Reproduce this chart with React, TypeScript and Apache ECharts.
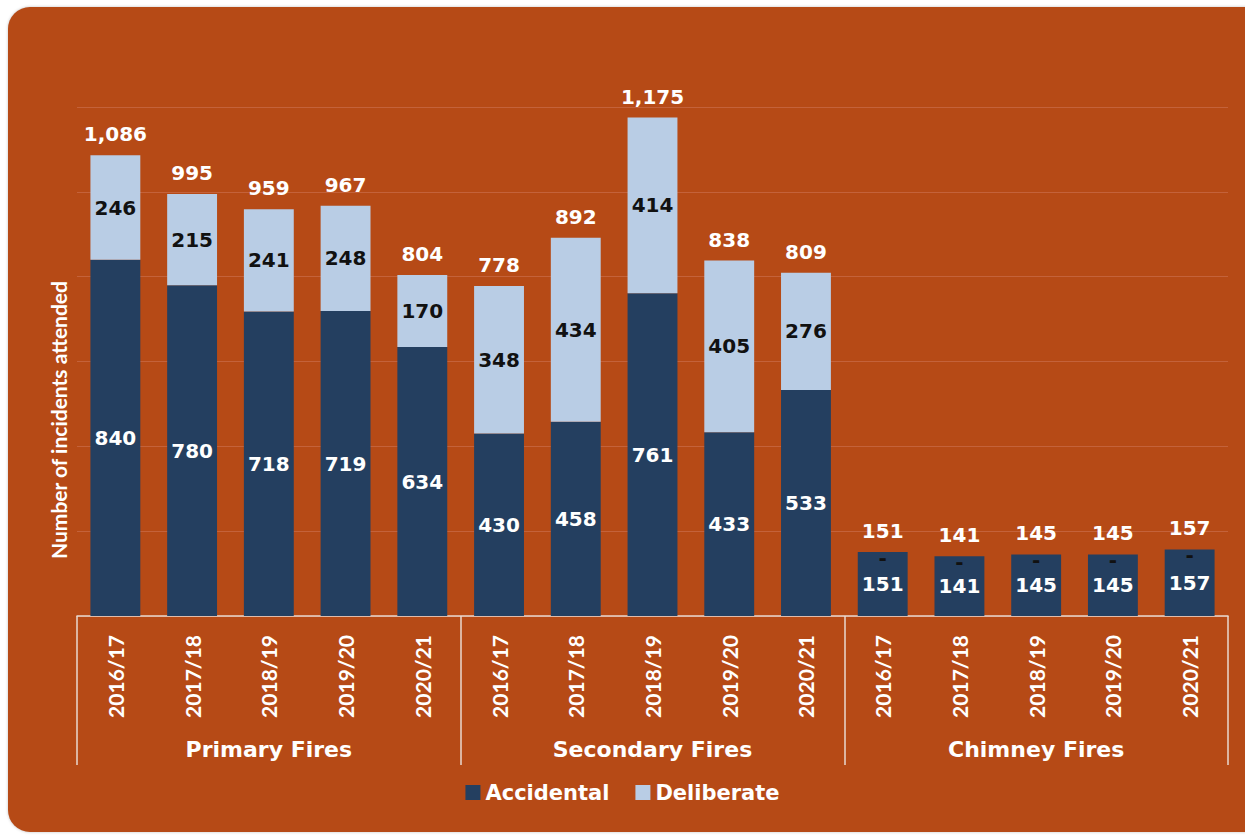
import React, { useEffect, useRef } from "react";
import * as echarts from "echarts";

const categories = [
  "2016/17", "2017/18", "2018/19", "2019/20", "2020/21",
  "2016/17", "2017/18", "2018/19", "2019/20", "2020/21",
  "2016/17", "2017/18", "2018/19", "2019/20", "2020/21",
];
const groups = ["Primary Fires", "Secondary Fires", "Chimney Fires"];
const accidental = [840, 780, 718, 719, 634, 430, 458, 761, 433, 533, 151, 141, 145, 145, 157];
const deliberate = [246, 215, 241, 248, 170, 348, 434, 414, 405, 276, 0, 0, 0, 0, 0];
const yTicks = { min: 0, max: 1200, interval: 200 };

const BG = "#B64A16";
const DARK = "#243F60";
const LIGHT = "#B9CDE5";
const LINE = "#E9DAD0";
const NUM_FONT = "DejaVu Sans";
const TXT_FONT = "Lato";

const fmt = (v: number) => v.toLocaleString("en-US");

export default function App() {
  const ref = useRef<HTMLDivElement>(null);
  useEffect(() => {
    if (!ref.current) return;
    const chart = echarts.init(ref.current, null, { renderer: "svg" });
    const totals = accidental.map((a, i) => a + deliberate[i]);
    chart.setOption({
      animation: false,
      backgroundColor: "transparent",
      grid: { left: 77, right: 17, top: 107, bottom: 220, containLabel: false },
      legend: {
        data: ["Accidental", "Deliberate"],
        top: 777,
        left: "center",
        itemWidth: 15,
        itemHeight: 15,
        itemGap: 26,
        icon: "rect",
        textStyle: { color: "#fff", fontFamily: NUM_FONT, fontWeight: "bold", fontSize: 21 },
      },
      xAxis: [
        {
          type: "category",
          data: categories,
          position: "bottom",
          axisLine: { show: true, lineStyle: { color: LINE, width: 1.5 } },
          axisTick: { show: false },
          axisLabel: {
            rotate: 90,
            color: "#fff",
            fontFamily: TXT_FONT,
            fontWeight: "bold",
            fontSize: 21,
            margin: 19,
            interval: 0,
          },
        },
        {
          type: "category",
          data: groups,
          position: "bottom",
          offset: 0,
          boundaryGap: true,
          axisLine: { show: false },
          axisTick: { show: true, length: 149, interval: 0, lineStyle: { color: LINE, width: 1.5 } },
          axisLabel: {
            color: "#fff",
            fontFamily: NUM_FONT,
            fontWeight: "bold",
            fontSize: 22,
            margin: 122,
            interval: 0,
          },
          splitLine: { show: false },
        },
      ],
      yAxis: {
        type: "value",
        min: yTicks.min,
        max: yTicks.max,
        interval: yTicks.interval,
        axisLabel: { show: false },
        axisLine: { show: false },
        axisTick: { show: false },
        splitLine: { lineStyle: { color: "#C4623A", width: 1.2 } },
      },
      graphic: [
        {
          type: "text",
          x: 58,
          y: 420,
          rotation: Math.PI / 2,
          style: {
            text: "Number of incidents attended",
            fill: "#fff",
            font: `bold 21px ${TXT_FONT}`,
            textAlign: "center",
            textVerticalAlign: "middle",
          },
        },
      ],
      series: [
        {
          name: "Accidental",
          type: "bar",
          stack: "s",
          xAxisIndex: 0,
          barCategoryGap: "35%",
          data: accidental,
          itemStyle: { color: DARK },
          label: {
            show: true,
            position: "inside",
            color: "#fff",
            fontFamily: NUM_FONT,
            fontWeight: "bold",
            fontSize: 20,
            formatter: (p: any) => fmt(p.value),
          },
        },
        {
          name: "Deliberate",
          type: "bar",
          stack: "s",
          xAxisIndex: 0,
          data: deliberate,
          itemStyle: { color: LIGHT },
          label: {
            show: true,
            position: "inside",
            color: "#111",
            fontFamily: NUM_FONT,
            fontWeight: "bold",
            fontSize: 20,
            formatter: (p: any) => (p.value === 0 ? "-" : fmt(p.value)),
          },
          labelLayout: (params: any) =>
            deliberate[params.dataIndex] === 0 ? { dy: 6 } : {},
        },
        {
          name: "Total",
          type: "bar",
          stack: "s",
          xAxisIndex: 0,
          data: totals.map(() => 0),
          itemStyle: { color: "transparent" },
          label: {
            show: true,
            position: "top",
            distance: 11,
            color: "#fff",
            fontFamily: NUM_FONT,
            fontWeight: "bold",
            fontSize: 20,
            formatter: (p: any) => fmt(totals[p.dataIndex]),
          },
        },
      ],
    });
    return () => chart.dispose();
  }, []);

  return (
    <div style={{ position: "fixed", left: 0, top: 0, width: 1245, height: 836, background: "#fff", overflow: "hidden" }}>
      <div
        style={{
          position: "absolute",
          left: 8,
          top: 7,
          width: 1260,
          height: 825,
          borderRadius: 22,
          background: BG,
          boxShadow: "0 0 3px rgba(0,0,0,0.25)",
        }}
      />
      <div ref={ref} style={{ position: "absolute", left: 0, top: 0, width: 1245, height: 836 }} />
    </div>
  );
}
